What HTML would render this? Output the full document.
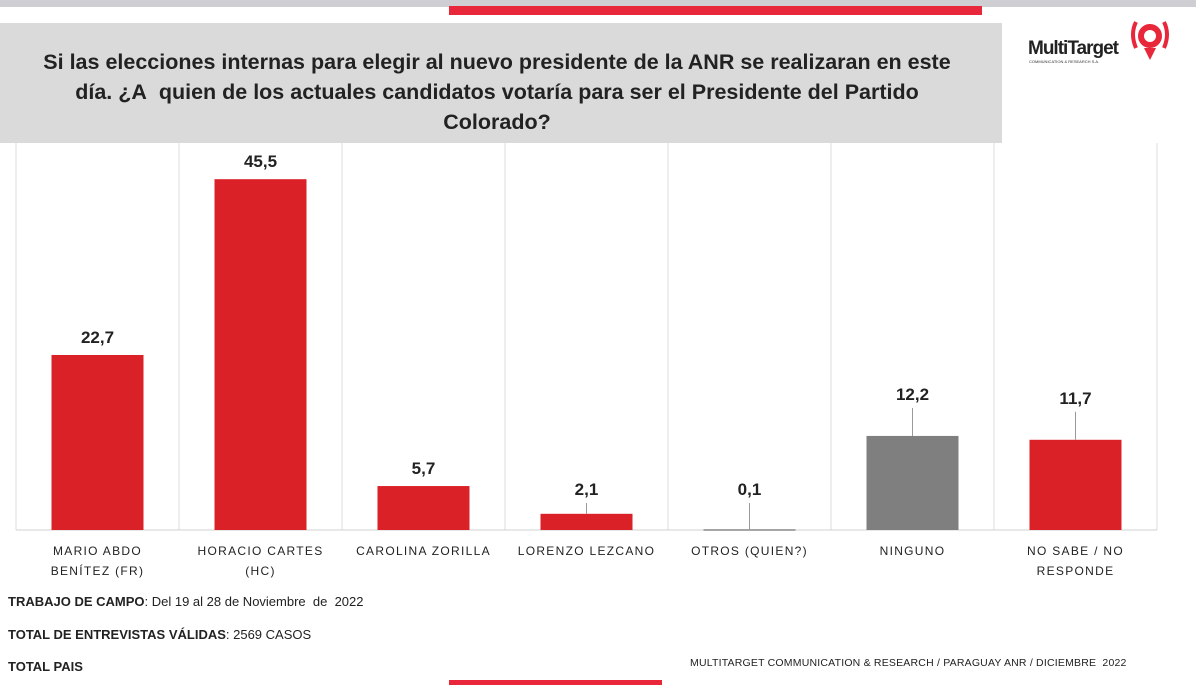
<!DOCTYPE html>
<html><head><meta charset="utf-8"><style>
body{margin:0;width:1196px;height:685px;background:#fff;overflow:hidden;position:relative;font-family:"Liberation Sans",sans-serif}
.abs{position:absolute}
</style></head><body>
<div class="abs" style="left:0;top:0;width:1196px;height:7px;background:#cfcfd3"></div>
<div class="abs" style="left:449px;top:6px;width:533px;height:9px;background:#e8273a"></div>
<div class="abs" style="left:0;top:23px;width:1002px;height:120px;background:#dadada"></div>
<div class="abs" style="left:0;top:47px;width:994px;text-align:center;font-weight:bold;font-size:21.5px;line-height:30px;color:#222;white-space:nowrap">Si las elecciones internas para elegir al nuevo presidente de la ANR se realizaran en este<br>día. ¿A&nbsp; quien de los actuales candidatos votaría para ser el Presidente del Partido<br>Colorado?</div>
<div class="abs" style="left:1028px;top:38px;font-weight:bold;font-size:19px;color:#222;letter-spacing:-1px">MultiTarget</div>
<div class="abs" style="left:1029px;top:59px;font-size:4px;color:#333">COMMUNICATION &amp; RESEARCH S.A.</div>
<svg class="abs" style="left:1128px;top:16px" width="45" height="50"><circle cx="22" cy="20" r="9" fill="none" stroke="#e8273a" stroke-width="6"/><path d="M8 6 Q2 18 8 32 M36 6 Q42 18 36 32" stroke="#e8273a" stroke-width="4" fill="none"/><path d="M16 32 L22 44 L28 32" fill="#e8273a"/></svg>
<svg class="abs" id="chart" style="left:0;top:0" width="1196" height="685"></svg>
<div class="abs" style="left:8px;top:594px;font-size:13px;color:#222"><b>TRABAJO DE CAMPO</b>: Del 19 al 28 de Noviembre&nbsp; de&nbsp; 2022</div>
<div class="abs" style="left:8px;top:627px;font-size:13px;color:#222"><b>TOTAL DE ENTREVISTAS VÁLIDAS</b>: 2569 CASOS</div>
<div class="abs" style="left:8px;top:659px;font-size:13px;color:#222;font-weight:bold">TOTAL PAIS</div>
<div class="abs" style="left:690px;top:657px;font-size:10.5px;color:#222;letter-spacing:0.2px">MULTITARGET COMMUNICATION &amp; RESEARCH / PARAGUAY ANR / DICIEMBRE&nbsp; 2022</div>
<div class="abs" style="left:449px;top:680px;width:213px;height:5px;background:#e8273a"></div>
<script>
const categories=[["MARIO ABDO","BENÍTEZ (FR)"],["HORACIO CARTES","(HC)"],["CAROLINA ZORILLA"],["LORENZO LEZCANO"],["OTROS (QUIEN?)"],["NINGUNO"],["NO SABE / NO","RESPONDE"]];
const values=[22.7,45.5,5.7,2.1,0.1,12.2,11.7];
const labels=["22,7","45,5","5,7","2,1","0,1","12,2","11,7"];
const barColors=["#da2128","#da2128","#da2128","#da2128","#888","#7f7f7f","#da2128"];
const svg=document.getElementById('chart');
const NS='http://www.w3.org/2000/svg';
const x0=16,colW=163,base=530,scale=7.71;
const xc=i=>x0+colW*i+colW/2;
const yv=v=>base-v*scale;
function mk(t,a){const e=document.createElementNS(NS,t);for(const k in a)e.setAttribute(k,a[k]);svg.appendChild(e);return e;}
for(let i=0;i<=categories.length;i++){
 const g=mk('line',{x1:x0+colW*i,x2:x0+colW*i,y1:143,y2:base,stroke:'#dcdcdc','stroke-width':1});
 
 
}
const ax=mk('line',{x1:x0,x2:x0+colW*categories.length,y1:base,y2:base,stroke:'#d0d0d0'});


values.forEach((v,i)=>{
 const top=yv(v);
 const b=mk('rect',{x:xc(i)-46,y:top,width:92,height:Math.max(base-top,1.5),fill:barColors[i]});
 
 
 let ly=top-12;
 if(v<3){ly=Math.min(ly,base-35);}
 else if(v>10&&v<15){ly=top-36;}
 if(ly<top-14){const l=mk('line',{x1:xc(i),x2:xc(i),y1:ly+8,y2:top,stroke:'#999'});}
 const t=mk('text',{x:xc(i),y:ly,'text-anchor':'middle','font-size':17,'font-weight':'bold',fill:'#222','font-family':'Liberation Sans'});
 t.textContent=labels[i];
 
 
 categories[i].forEach((ln,j)=>{
  const c=mk('text',{x:xc(i),y:555+j*20,'text-anchor':'middle','font-size':12,'letter-spacing':1.3,fill:'#222','font-family':'Liberation Sans'});
  c.textContent=ln;
  
  
 });
});
</script>
</body></html>
